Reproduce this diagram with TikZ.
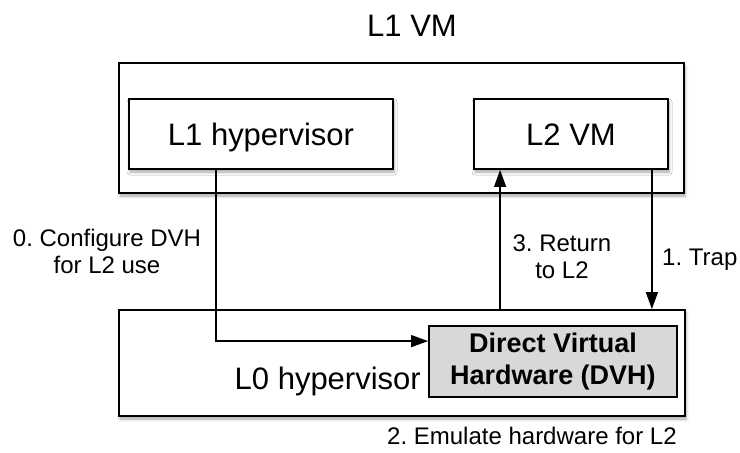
\documentclass[tikz,border=0pt]{standalone}
\usepackage{fontspec}
\setmainfont{Liberation Sans}
\usetikzlibrary{arrows.meta,shadows.blur}
\definecolor{dvhfill}{RGB}{216,216,216}
\frenchspacing

\begin{document}
\begin{tikzpicture}[x=1pt,y=-1pt,
  box/.style={draw=black, line width=1.8pt, fill=white, inner sep=0pt},
  soft/.style={blur shadow={shadow xshift=1pt, shadow yshift=-3pt, shadow blur radius=3pt, shadow opacity=35}},
  big/.style={font=\fontsize{31}{37}\selectfont},
  capcentered/.style={text height=22pt, text depth=0pt},
  steplabel/.style={font=\fontsize{24}{27}\selectfont, align=center, inner sep=0pt},
  conn/.style={line width=1.3pt, -{Triangle[length=17pt,width=12pt]}},
]
\useasboundingbox (0,0) rectangle (740,453);

% L1 VM container and its two guests
\node[box, soft, minimum width=565pt, minimum height=130pt] (l1vm) at (401.5,128) {};
\node[big, anchor=base] (title) at (412,36) {L1 VM};
\node[box, soft, big, capcentered, minimum width=264pt, minimum height=70pt] (l1hyp) at (261,134) {L1 hypervisor};
\node[box, soft, big, capcentered, minimum width=194pt, minimum height=70pt] (l2vm) at (571,134) {L2 VM};

% L0 hypervisor with the direct virtual hardware block
\node[box, soft, minimum width=566pt, minimum height=106pt] (l0) at (402,363) {};
\node[box, fill=dvhfill, font=\fontsize{27}{32}\selectfont\bfseries, align=center,
      minimum width=248pt, minimum height=71pt] (dvh) at (553,361.5) {Direct Virtual\\Hardware (DVH)};
\node[big, anchor=base east, inner sep=0pt] (l0lbl) at (421,389) {L0 hypervisor};

% connector end points
\coordinate (cfgx) at ([xshift=88pt]l1hyp.south west);
\coordinate (cfgy) at ([yshift=-16pt]dvh.north west);
\coordinate (retx) at ([xshift=27pt]l2vm.south west);
\coordinate (trapx) at ([xshift=-17pt]l2vm.south east);

\draw[conn] (cfgx) |- (cfgy);
\draw[conn] (retx |- l0.north) -- (retx);
\draw[conn] (trapx) -- (trapx |- l0.north);

% step labels
\node[steplabel] (cfg) at (107,251) {0. Configure DVH\\for L2 use};
\node[steplabel] (ret) at (562,257) {3. Return\\to L2};
\node[steplabel, anchor=base west] (trap) at (662,265) {1. Trap};
\node[steplabel, anchor=base west] (emu) at (387,444) {2. Emulate hardware for L2};
\end{tikzpicture}
\end{document}
